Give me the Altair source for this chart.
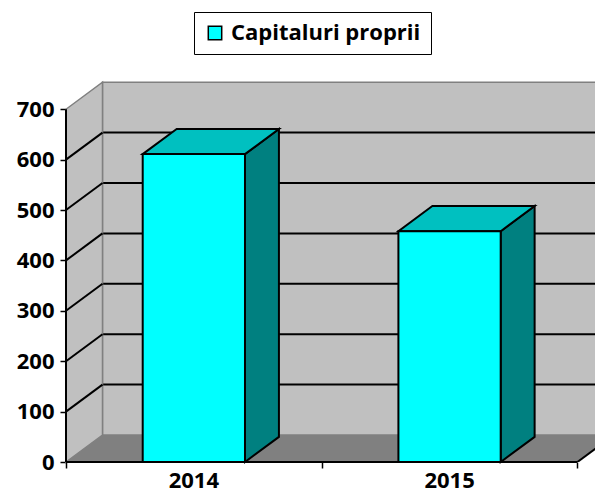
import altair as alt
import pandas as pd

# ---- data ----
categories = ["2014", "2015"]
values = [611, 458]
series_name = "Capitaluri proprii"
y_ticks = [0, 100, 200, 300, 400, 500, 600, 700]

# ---- geometry / style constants ----
n = len(categories)
Y_MAX = y_ticks[-1]
PLOT_W = 529
PX_PER_CAT = 255.7
X_DOMAIN = [0, PLOT_W / PX_PER_CAT]
Y_DOMAIN = [0, 760]
DX = 0.1427      # 3D depth along x (category units)
DY = 53.6        # 3D depth along y (value units)
BDX = DX * 0.93  # bar depth
BDY = DY * 0.93
BAR_W = 0.4
X_END = n + DX

WALL = "#C0C0C0"
FLOOR = "#808080"
EDGE = "#808080"
FRONT = "#00FFFF"
TOP = "#00C0C0"
SIDE = "#008080"

xs = alt.Scale(domain=X_DOMAIN, nice=False, zero=False)
ys = alt.Scale(domain=Y_DOMAIN, nice=False, zero=False)
xax = alt.Axis(values=list(range(n + 1)), labels=False, domain=False, grid=False,
               tickColor="black", tickWidth=1.5, tickSize=6, title=None)
yax = alt.Axis(values=y_ticks, domain=False, grid=False, tickColor="black",
               tickWidth=1.5, tickSize=6, labelFont="Open Sans",
               labelFontWeight="bold", labelFontSize=22, labelColor="black",
               labelPadding=6, title=None)


def X(f):
    return alt.X(f"{f}:Q", scale=xs, axis=xax)


def Y(f):
    return alt.Y(f"{f}:Q", scale=ys, axis=yax, stack=None)


# back wall
back_df = pd.DataFrame([{"x": DX, "x2": X_END, "y": DY, "y2": Y_MAX + DY}])
back = alt.Chart(back_df).mark_rect(fill=WALL, stroke=EDGE, strokeWidth=1.5, clip=True).encode(
    x=X("x"), x2="x2", y=Y("y"), y2="y2")

# back gridlines
bg_df = pd.DataFrame([{"x": DX, "x2": X_END, "y": v + DY} for v in y_ticks[1:-1]])
back_grid = alt.Chart(bg_df).mark_rule(color="black", strokeWidth=2, clip=True).encode(
    x=X("x"), x2="x2", y=Y("y"))

# left wall
lw_df = pd.DataFrame([{"x": 0, "top": Y_MAX, "bot": 0},
                      {"x": DX, "top": Y_MAX + DY, "bot": DY}])
left_wall = alt.Chart(lw_df).mark_area(orient="vertical", fill=WALL, stroke=EDGE,
                                       strokeWidth=1.5).encode(
    x=X("x"), y=Y("top"), y2="bot")

# left wall gridlines (diagonals)
lg_df = pd.DataFrame([{"x": 0, "x2": DX, "y": v, "y2": v + DY} for v in y_ticks[1:-1]])
left_grid = alt.Chart(lg_df).mark_rule(color="black", strokeWidth=2).encode(
    x=X("x"), x2="x2", y=Y("y"), y2="y2")

# floor
fl_df = pd.DataFrame([{"y": 0, "xl": 0, "xr": n},
                      {"y": DY, "xl": DX, "xr": n + DX}])
floor = alt.Chart(fl_df).mark_area(orient="horizontal", fill=FLOOR, clip=True).encode(
    y=Y("y"), x=X("xl"), x2="xr")
fe_df = pd.DataFrame([{"x": n, "x2": n + DX, "y": 0, "y2": DY}])
floor_edge = alt.Chart(fe_df).mark_rule(color="black", strokeWidth=2, clip=True).encode(
    x=X("x"), x2="x2", y=Y("y"), y2="y2")

# axis lines
ax_df = pd.DataFrame([{"x": 0, "x2": 0, "y": 0, "y2": Y_MAX},
                      {"x": 0, "x2": n, "y": 0, "y2": 0}])
axis_lines = alt.Chart(ax_df).mark_rule(color="black", strokeWidth=2).encode(
    x=X("x"), x2="x2", y=Y("y"), y2="y2")

# bars
front_rows, top_rows, side_rows = [], [], []
for i, (c, v) in enumerate(zip(categories, values)):
    x0 = i + 0.5 - BAR_W / 2
    x1 = x0 + BAR_W
    front_rows.append({"x": x0, "x2": x1, "y": 0, "y2": v, "series": series_name, "cat": c})
    top_rows += [{"y": v, "xl": x0, "xr": x1, "id": c},
                 {"y": v + BDY, "xl": x0 + BDX, "xr": x1 + BDX, "id": c}]
    side_rows += [{"x": x1, "top": v, "bot": 0, "id": c},
                  {"x": x1 + BDX, "top": v + BDY, "bot": BDY, "id": c}]

side = alt.Chart(pd.DataFrame(side_rows)).mark_area(
    orient="vertical", fill=SIDE, stroke="black", strokeWidth=2, strokeJoin="miter").encode(
    x=X("x"), y=Y("top"), y2="bot", detail="id:N")
top = alt.Chart(pd.DataFrame(top_rows)).mark_area(
    orient="horizontal", fill=TOP, stroke="black", strokeWidth=2, strokeJoin="miter").encode(
    y=Y("y"), x=X("xl"), x2="xr", detail="id:N")
front = alt.Chart(pd.DataFrame(front_rows)).mark_rect(
    stroke="black", strokeWidth=2).encode(
    x=X("x"), x2="x2", y=Y("y"), y2="y2",
    color=alt.Color("series:N",
                    scale=alt.Scale(domain=[series_name], range=[FRONT]),
                    legend=alt.Legend(orient="none", legendX=128, legendY=-67,
                                      title=None, symbolType="square", symbolSize=180,
                                      symbolStrokeColor="black", symbolStrokeWidth=1.5,
                                      labelFont="Open Sans", labelFontWeight="bold",
                                      labelFontSize=22, labelColor="black",
                                      labelLimit=0, labelOffset=5,
                                      strokeColor="black", fillColor="white",
                                      padding=10)))

# category labels
lab_df = pd.DataFrame([{"x": i + 0.5, "y": 0, "t": c} for i, c in enumerate(categories)])
labels = alt.Chart(lab_df).mark_text(font="Open Sans", fontWeight="bold", fontSize=22,
                                     color="black", baseline="bottom", dy=31).encode(
    x=X("x"), y=Y("y"), text="t:N")

chart = alt.layer(back, back_grid, left_wall, left_grid, floor, floor_edge,
                  side, top, front, axis_lines, labels).properties(
    width=PLOT_W, height=383,
    autosize=alt.AutoSizeParams(type="none"),
    padding={"left": 58, "top": 71, "right": 0, "bottom": 32},
    background="white",
).configure_view(stroke=None)

chart.save("out.html", embed_options={"renderer": "svg", "actions": False})
